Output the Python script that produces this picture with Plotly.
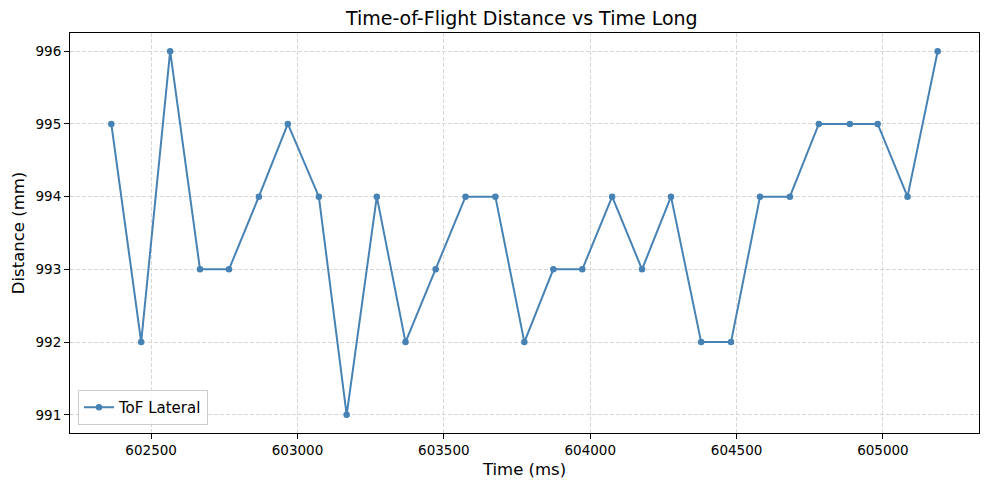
import plotly.graph_objects as go

time_ms = [602364, 602466, 602565, 602667, 602766, 602868, 602967, 603073, 603168, 603271,
           603369, 603472, 603574, 603676, 603775, 603874, 603973, 604075, 604177, 604276,
           604379, 604481, 604580, 604682, 604781, 604887, 604982, 605084, 605187]
distance_mm = [995, 992, 996, 993, 993, 994, 995, 994, 991, 994,
               992, 993, 994, 994, 992, 993, 993, 994, 993, 994,
               992, 992, 994, 994, 995, 995, 995, 994, 996]
x_ticks = [602500, 603000, 603500, 604000, 604500, 605000]
y_ticks = [991, 992, 993, 994, 995, 996]

font = "DejaVu Sans"
# page body has an 8px default margin; size the figure so the plot lands where intended
W, H = 981, 482
fig = go.Figure()
fig.add_trace(go.Scatter(
    x=time_ms, y=distance_mm, mode="lines+markers", name="ToF Lateral",
    line=dict(color="#4682B4", width=2),
    marker=dict(color="#4682B4", size=6.5),
))

span = time_ms[-1] - time_ms[0]
fig.update_layout(
    width=W, height=H,
    margin=dict(l=62, r=10, t=25, b=57),
    paper_bgcolor="white", plot_bgcolor="white",
    font=dict(family=font, color="black"),
    title=dict(text="Time-of-Flight Distance vs Time Long", xref="paper", x=0.497,
               xanchor="center",
               y=1 - 10 / H, yanchor="middle", font=dict(size=19, family=font)),
    showlegend=True,
    legend=dict(x=0.0088, y=0.02, xanchor="left", yanchor="bottom",
                bgcolor="rgba(255,255,255,0.8)", bordercolor="#cccccc", borderwidth=1,
                font=dict(size=15, family=font)),
)
grid = dict(showgrid=True, gridcolor="#d6d6d6", griddash="4px,2px", gridwidth=1)
fig.update_xaxes(
    range=[time_ms[0] - 0.05 * span, time_ms[-1] + 0.05 * span],
    tickvals=x_ticks, ticktext=[str(v) for v in x_ticks],
    ticks="outside", ticklen=5, tickcolor="black", tickfont=dict(size=13.5),
    showline=True, linecolor="black", linewidth=1, mirror=True,
    zeroline=False, automargin=False,
    title=dict(text="Time (ms)", font=dict(size=16.5), standoff=6),
    **grid,
)
fig.update_yaxes(
    range=[990.75, 996.25],
    tickvals=y_ticks, ticktext=[str(v) for v in y_ticks],
    ticks="outside", ticklen=5, tickcolor="black", tickfont=dict(size=13.5),
    showline=True, linecolor="black", linewidth=1, mirror=True,
    zeroline=False, automargin=False,
    title=dict(text="Distance (mm)", font=dict(size=16.5), standoff=6),
    **grid,
)
fig.write_html("out.html")
